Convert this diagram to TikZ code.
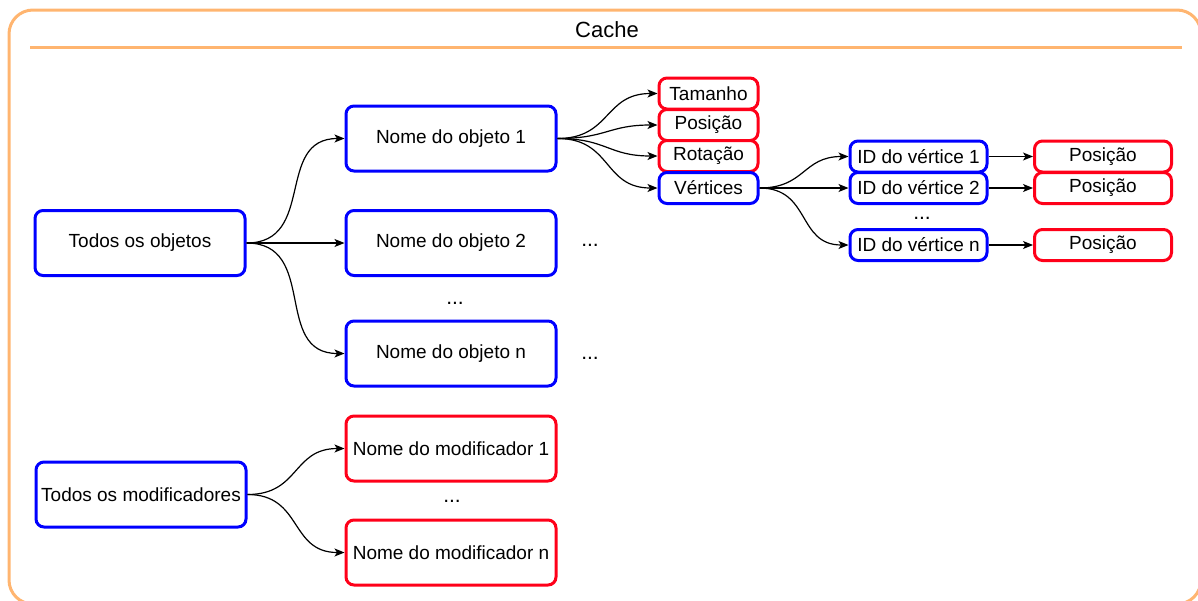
\documentclass[tikz,border=0pt]{standalone}
\usepackage{fontspec}
\setmainfont{Liberation Sans}
\usetikzlibrary{arrows.meta}
\definecolor{frameorange}{HTML}{FFB570}
\definecolor{boxblue}{HTML}{0000FF}
\definecolor{boxred}{HTML}{FF0019}
\tikzset{
  box/.style={draw, line width=3pt, rounded corners=8pt, fill=white,
    inner sep=0pt, align=center, font=\fontsize{19}{22}\selectfont},
  bigbox/.style={box, minimum width=210pt, minimum height=65pt},
  smallbox/.style={box, minimum width=99pt, minimum height=31pt},
  idbox/.style={box, minimum width=137pt, minimum height=31pt},
  blue box/.style={draw=boxblue},
  red box/.style={draw=boxred},
  link/.style={line width=1.2pt, -{Stealth[length=10pt,width=8pt,inset=2.5pt]}},
  curvy/.style={link, out=0, in=180, looseness=1.25},
  dots/.style={anchor=base, inner sep=0pt, font=\fontsize{21}{24}\selectfont},
}
\begin{document}
\begin{tikzpicture}[x=1pt, y=-1pt]
  \useasboundingbox (0,0) rectangle (1198,600);
  \begin{scope}
    \clip (0,0) rectangle (1198,600);
    % outer container
    \draw[frameorange, line width=3pt, rounded corners=24pt] (9,10) rectangle (1201,604);
  \end{scope}
  \node[font=\fontsize{22}{26}\selectfont] (title) at (607,30) {Cache};
  \coordinate (ruleL) at (30,47);
  \coordinate (ruleR) at (1182,47);
  \draw[frameorange, line width=3pt] (ruleL) -- (ruleR);

  % objects
  \node[bigbox, blue box] (all) at (140,243) {Todos os objetos};
  \node[bigbox, blue box] (obj1) at (451,138.5) {Nome do objeto 1};
  \node[bigbox, blue box] (obj2) at (451,243) {Nome do objeto 2};
  \node[bigbox, blue box] (objn) at (451,353.5) {Nome do objeto n};
  \node[dots] (d1) at (455,304) {...};
  \node[dots] (d2) at (590,246) {...};
  \node[dots] (d3) at (590,359) {...};

  % object attributes
  \node[smallbox, red box] (size) at (708.5,93.5) {Tamanho};
  \node[smallbox, red box] (pos) at (708.5,125) {Posição};
  \node[smallbox, red box] (rot) at (708.5,156) {Rotação};
  \node[smallbox, blue box] (vert) at (708.5,188) {Vértices};

  % vertices
  \node[idbox, blue box] (v1) at (918.5,156.5) {ID do vértice 1};
  \node[idbox, blue box] (v2) at (918.5,188) {ID do vértice 2};
  \node[idbox, blue box] (vn) at (918.5,245) {ID do vértice n};
  \node[dots] (d4) at (922,219) {...};
  \node[idbox, red box] (p1) at (1103,156.5) {Posição};
  \node[idbox, red box] (p2) at (1103,188) {Posição};
  \node[idbox, red box] (pn) at (1103,245) {Posição};

  % modifiers
  \node[bigbox, blue box] (mods) at (141,494.5) {Todos os modificadores};
  \node[bigbox, red box] (mod1) at (451,448.5) {Nome do modificador 1};
  \node[bigbox, red box] (modn) at (451,552.5) {Nome do modificador n};
  \node[dots] (d5) at (452,502) {...};

  % connectors
  \draw[curvy] (all.east) to (obj1.west);
  \draw[curvy] (all.east) to (obj2.west);
  \draw[curvy] (all.east) to (objn.west);
  \draw[curvy] (obj1.east) to (size.west);
  \draw[curvy] (obj1.east) to (pos.west);
  \draw[curvy] (obj1.east) to (rot.west);
  \draw[curvy] (obj1.east) to (vert.west);
  \draw[curvy] (vert.east) to (v1.west);
  \draw[curvy] (vert.east) to (v2.west);
  \draw[curvy] (vert.east) to (vn.west);
  \draw[link] (v1) -- (p1);
  \draw[link] (v2) -- (p2);
  \draw[link] (vn) -- (pn);
  \draw[curvy] (mods.east) to (mod1.west);
  \draw[curvy] (mods.east) to (modn.west);
\end{tikzpicture}
\end{document}
